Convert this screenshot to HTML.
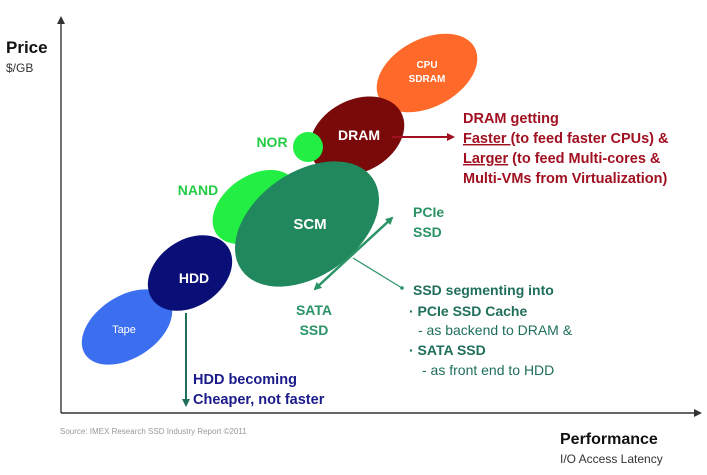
<!DOCTYPE html>
<html><head><meta charset="utf-8"><style>
html,body{margin:0;padding:0;background:#fff;}
svg{display:block;font-family:"Liberation Sans",Arial,sans-serif;}
</style></head><body>
<svg width="707" height="475" viewBox="0 0 707 475" xmlns="http://www.w3.org/2000/svg">
<defs>
<marker id="ag" markerWidth="8" markerHeight="8" refX="6" refY="4" orient="auto-start-reverse" markerUnits="userSpaceOnUse"><path d="M0,0 L8,4 L0,8 Z" fill="#2a9466"/></marker>
<marker id="ar" markerWidth="8" markerHeight="8" refX="6" refY="4" orient="auto" markerUnits="userSpaceOnUse"><path d="M0,0 L8,4 L0,8 Z" fill="#a01020"/></marker>
<marker id="at" markerWidth="8" markerHeight="8" refX="6" refY="4" orient="auto" markerUnits="userSpaceOnUse"><path d="M0,0 L8,4 L0,8 Z" fill="#1f6f5a"/></marker>
<marker id="ak" markerWidth="8" markerHeight="8" refX="6" refY="4" orient="auto" markerUnits="userSpaceOnUse"><path d="M0,0 L8,4 L0,8 Z" fill="#333"/></marker>
</defs>
<line x1="61" y1="413" x2="61" y2="18" stroke="#444" stroke-width="1.5" marker-end="url(#ak)"/>
<line x1="61" y1="413" x2="700" y2="413" stroke="#333" stroke-width="1.5" marker-end="url(#ak)"/>
<text x="6" y="53" font-size="17" font-weight="bold" fill="#111">Price</text>
<text x="6" y="72" font-size="12" fill="#333">$/GB</text>
<text x="560" y="444" font-size="16" font-weight="bold" fill="#111">Performance</text>
<text x="560" y="463" font-size="12" fill="#333">I/O Access Latency</text>
<text x="60" y="434" font-size="8" fill="#999">Source: IMEX Research SSD Industry  Report  ©2011</text>

<ellipse cx="427" cy="73" rx="54" ry="34" transform="rotate(-28 427 73)" fill="#ff6a2a"/>
<text x="427" y="68" font-size="10" fill="#fff" text-anchor="middle" font-weight="bold">CPU</text>
<text x="427" y="82" font-size="10" fill="#fff" text-anchor="middle" font-weight="bold">SDRAM</text>
<ellipse cx="357" cy="136" rx="50" ry="36" transform="rotate(-28 357 136)" fill="#7a0a0a"/>
<text x="359" y="140" font-size="14" fill="#fff" text-anchor="middle" font-weight="bold">DRAM</text>
<circle cx="308" cy="147" r="15" fill="#22ee44"/>
<ellipse cx="127" cy="327" rx="50" ry="31" transform="rotate(-33 127 327)" fill="#3c6ef0"/>
<text x="124" y="333" font-size="11" fill="#fff" text-anchor="middle">Tape</text>
<ellipse cx="255" cy="207" rx="47" ry="31" transform="rotate(-35 255 207)" fill="#22ee44"/>
<ellipse cx="190" cy="273" rx="46" ry="33" transform="rotate(-35 190 273)" fill="#0a0f78"/>
<text x="194" y="283" font-size="14" fill="#fff" text-anchor="middle" font-weight="bold">HDD</text>
<ellipse cx="307" cy="224" rx="80" ry="52" transform="rotate(-35 307 224)" fill="#21885e"/>
<text x="310" y="229" font-size="15" fill="#fff" text-anchor="middle" font-weight="bold">SCM</text>

<text x="272" y="147" font-size="14" fill="#22cc44" text-anchor="middle" font-weight="bold">NOR</text>
<text x="198" y="195" font-size="14" fill="#22cc44" text-anchor="middle" font-weight="bold">NAND</text>

<line x1="392" y1="137" x2="453" y2="137" stroke="#a01020" stroke-width="2" marker-end="url(#ar)"/>
<g font-size="14.5" font-weight="bold" fill="#a01020">
<text x="463" y="123">DRAM getting</text>
<text x="463" y="143"><tspan text-decoration="underline">Faster </tspan>(to feed faster CPUs) &amp;</text>
<text x="463" y="163"><tspan text-decoration="underline">Larger</tspan> (to feed Multi-cores &amp;</text>
<text x="463" y="183">Multi-VMs from Virtualization)</text>
</g>

<line x1="315" y1="289" x2="392" y2="218" stroke="#2a9466" stroke-width="2.5" marker-start="url(#ag)" marker-end="url(#ag)"/>
<line x1="353" y1="258" x2="402" y2="288" stroke="#2a9466" stroke-width="1.2"/>
<circle cx="402" cy="288" r="1.8" fill="#2a9466"/>
<g font-size="14" font-weight="bold" fill="#2a9466">
<text x="413" y="217">PCIe</text>
<text x="413" y="237">SSD</text>
<text x="314" y="315" text-anchor="middle">SATA</text>
<text x="314" y="335" text-anchor="middle">SSD</text>
</g>
<g font-size="14" fill="#1f6f5a">
<text x="413" y="295" font-weight="bold">SSD segmenting into</text>
<text x="409" y="316" font-weight="bold">· PCIe SSD Cache</text>
<text x="418" y="335">- as backend to DRAM &amp;</text>
<text x="409" y="355" font-weight="bold">· SATA SSD</text>
<text x="422" y="375">- as front end to HDD</text>
</g>

<line x1="186" y1="313" x2="186" y2="405" stroke="#1f6f5a" stroke-width="2" marker-end="url(#at)"/>
<g font-size="14.5" font-weight="bold" fill="#1a1a8a">
<text x="193" y="384">HDD becoming</text>
<text x="193" y="404">Cheaper, not faster</text>
</g>
</svg>
</body></html>
